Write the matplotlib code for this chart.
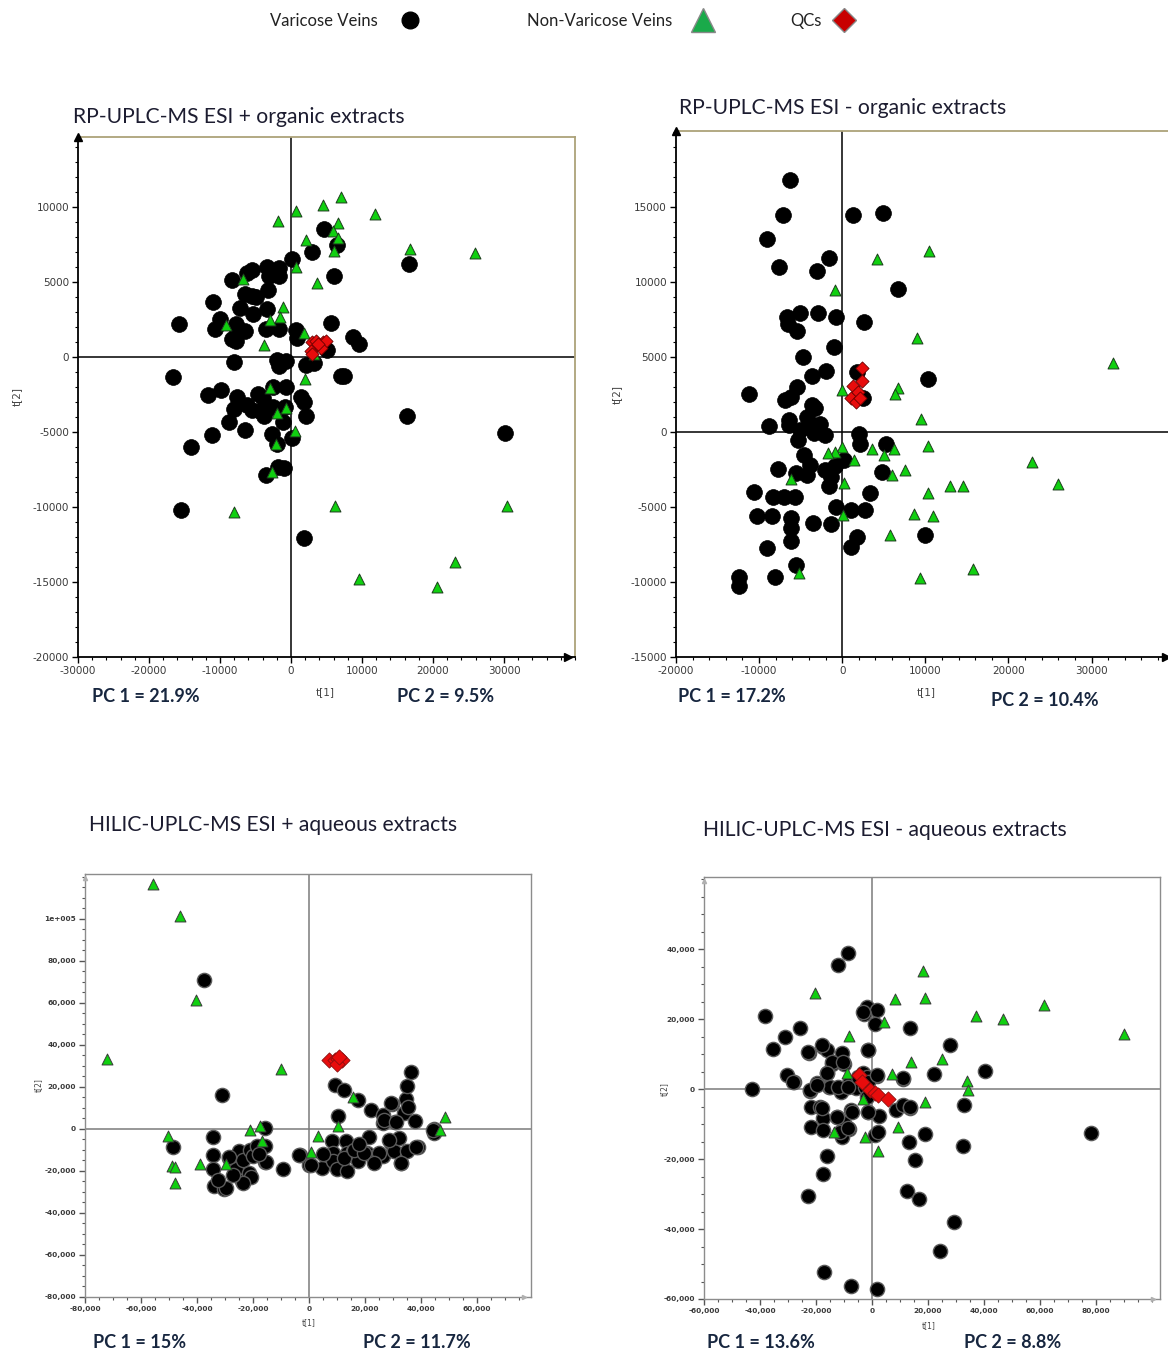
import numpy as np
import matplotlib
matplotlib.use("Agg")
import matplotlib.pyplot as plt
from matplotlib.lines import Line2D
from matplotlib.ticker import MultipleLocator, FuncFormatter, FixedLocator

plt.rcParams['axes.unicode_minus'] = False

W, H = 1168, 1352

# ---- score values (t[1], t[2]) per panel and sample group ----
rp_pos_vv = np.array([
    (4600, 8540), (3020, 6980), (6510, 7450), (160, 6510), (6085, 5420), (16670, 6190), (5660, 2250),
    (8730, 1360), (9630, 870), (5130, 470), (3280, -400), (2060, -500), (6980, -1240), (7510, -1240),
    (16350, -3960), (30100, -5070), (1850, -12080),
    (-3440, 5990), (-1640, 5920), (-3120, 5420), (-1640, 5420), (-5450, 5790), (-6240, 5620), (-8360, 5120),
    (-3170, 4460), (-6510, 4210), (-5450, 4080), (-11000, 3640), (-7250, 3290), (-3330, 3220), (-5290, 2900),
    (-10050, 2520), (-15770, 2200), (-10740, 1900), (-7720, 2200), (-7560, 1710), (-6510, 1710), (-3490, 1900),
    (-1640, 1900), (740, 1780), (790, 1290), (-8250, 1210), (-7720, 1040), (-7980, -320), (-2010, -200),
    (-1750, -570), (-690, -270), (-16560, -1360), (-9790, -2180), (-11690, -2500), (-7670, -2650),
    (-2540, -1980), (-690, -1980), (1430, -2670), (1850, -3000), (-4660, -2480), (-3970, -2750),
    (-6240, -3170), (-7980, -3490), (-5450, -3540), (-3860, -3910), (-790, -3340), (2060, -3910),
    (-8780, -4360), (-1110, -4360), (-6510, -4850), (-11110, -5220), (-2700, -5150), (210, -5400),
    (-2010, -5770), (-14020, -6010), (-3540, -7870), (-1900, -7300), (-950, -7430), (-15450, -10220),
    (-4300, -3600), (-2500, -3300), (-4900, 4000),
])
rp_pos_nv = np.array([
    (7000, 10700), (4440, 10150), (690, 9750), (-1800, 9080), (11800, 9550), (6560, 8960), (5870, 8390),
    (6610, 7920), (2170, 7800), (6090, 7100), (16770, 7230), (25980, 6960), (740, 5970), (3600, 4930),
    (-6770, 5170), (-1110, 3340), (-1480, 2700), (-2910, 2500), (-9150, 2130), (-3760, 820), (3280, 170),
    (1830, 1600), (1960, -1490), (-2960, -2080), (-740, -3420), (-1960, -3760), (630, -4900),
    (-2120, -5790), (-2700, -7650), (-8040, -10300), (6240, -9930), (30420, -9930), (9520, -14800),
    (23070, -13690), (20530, -15300),
])
rp_pos_qc = np.array([
    (2910, 970), (3540, 1040), (4500, 970), (4920, 1040), (2800, 420), (3020, 170), (4180, 620), (3810, 870),
])

rp_neg_vv = np.array([
    (-6270, 16830), (-7070, 14450), (1330, 14450), (4930, 14600), (-9020, 12890), (-7640, 11030),
    (-3070, 10750), (-1600, 11630), (6710, 9520), (-6620, 7640), (-5020, 7940), (-2930, 7940), (-710, 7640),
    (2670, 7360), (-6490, 7190), (-5470, 6730), (-930, 5700), (-4710, 4970), (-1960, 4100), (-3640, 3720),
    (10270, 3520), (-5470, 2990), (-11240, 2540), (-6930, 2160), (-6130, 2340), (-3640, 1830), (-3290, 1580),
    (1820, 3970), (2490, 2290), (-8800, 380), (-6400, 780), (-6400, 480), (-3910, 530), (-2710, 530),
    (-4270, 1030), (-5020, 150), (-3380, -50), (-2040, -230), (-5290, -530), (1960, -130), (2090, -780),
    (5290, -830), (-4580, -1560), (-3820, -2190), (-7730, -2460), (-5600, -2740), (-4270, -2860),
    (-2040, -2540), (-1380, -2990), (-840, -2240), (180, -1860), (-1600, -3620), (4760, -2690),
    (-10620, -3990), (-8360, -4300), (-7020, -4300), (-5730, -4300), (3290, -4050), (-710, -5000),
    (1070, -5200), (2760, -5200), (-10220, -5630), (-8400, -5630), (-6220, -5750), (-6220, -6380),
    (-3560, -6080), (-1290, -6130), (-6220, -7260), (1820, -7010), (1110, -7640), (10000, -6880),
    (-9110, -7760), (-5510, -8890), (-8040, -9650), (-12400, -9650), (-12400, -10280),
])
rp_neg_nv = np.array([
    (10400, 12040), (4180, 11510), (-840, 9500), (8980, 6260), (32620, 4620), (6760, 2910), (6360, 2540),
    (0, 2790), (9420, 850), (10270, -930), (3640, -1110), (6220, -1110), (-40, -1030), (-840, -1360),
    (-1690, -1410), (1420, -1860), (5020, -1560), (7600, -2540), (6000, -2860), (-6180, -3120), (180, -3420),
    (22840, -1990), (25960, -3490), (12980, -3620), (14580, -3620), (10270, -4050), (8620, -5450),
    (10930, -5630), (90, -5500), (5780, -6880), (15780, -9150), (9330, -9720), (-5240, -9400),
])
rp_neg_qc = np.array([
    (2400, 4270), (2400, 3420), (1330, 3090), (1070, 2290), (1600, 1990), (1870, 2660), (2130, 2290),
])

hilic_pos_vv = np.array([
    (-37370, 70830), (-30950, 16280), (-48670, -8540), (-34280, -3950), (-34280, -12170), (-34280, -19290),
    (-32480, -25300), (-34030, -27200), (-30180, -28770), (-28640, -13750), (-26070, -19290),
    (-25040, -10590), (-23500, -14550), (-24010, -24820), (-21570, -20870), (-20930, -9800),
    (-20160, -12650), (-18620, -8220), (-15540, 320), (-15540, -7910), (-15540, -15810), (-9370, -19290),
    (-3210, -12170), (0, -16920), (4490, -18500), (9250, 21030), (12460, 18660), (17600, 13910),
    (22090, 9170), (26580, 6800), (26320, 2850), (29790, 11860), (30820, 3160), (34030, 7590),
    (34670, 14230), (34930, 20240), (36600, 27350), (37880, 3640), (10270, 6320), (8350, -5850),
    (8600, -11380), (8600, -15340), (9890, -19290), (13100, -5850), (13740, -11380), (13740, -20080),
    (15670, -10280), (17600, -15340), (20800, -11380), (21450, -3950), (23370, -13440), (26580, -12960),
    (29150, -6640), (30440, -10590), (31980, -4270), (33000, -16130), (34930, -10590), (38780, -8700),
    (44560, -1900), (44560, 0), (24910, -11380), (12460, -13750), (-20710, -22700), (-23690, -25860),
    (-29640, -28240), (-28450, -13190), (-15360, -15560), (-3460, -12380), (710, -17140), (16190, -10000),
    (19750, -11590), (23330, -16350), (28690, -5240), (32860, -16350), (38210, -8410), (35240, 10630),
    (29290, 12220), (26900, 4290), (31070, 3490), (44170, -480), (-32620, -24290), (-27000, -22000),
    (-18000, -12000), (5000, -12000), (18000, -7000),
])
hilic_pos_nv = np.array([
    (-55600, 116680), (-46230, 101500), (-40190, 61340), (-72290, 33360), (-10020, 28620), (15670, 15020),
    (48410, 5690), (46870, -320), (10530, 1260), (3210, -3160), (640, -10750), (-20930, -320),
    (-17340, 1260), (-16690, -5530), (-50470, -3160), (-48930, -17710), (-47900, -18020), (-47900, -25610),
    (-38910, -16440), (-29660, -16440),
])
hilic_pos_qc = np.array([
    (7320, 32880), (9250, 32880), (10530, 33200), (11810, 32880), (10000, 30990), (10800, 34470),
])

hilic_neg_vv = np.array([
    (-8710, 38900), (-12190, 35480), (-38180, 20780), (-25870, 17550), (-31090, 14900), (-35450, 11380),
    (-22390, 10340), (-17410, 12050), (-16170, 11100), (-10820, 10340), (-14300, 7300), (-9950, 7300),
    (-1870, 23430), (1870, 22480), (-2740, 21540), (1240, 18500), (-1490, 11100), (13430, 17550),
    (27990, 12710), (22140, 4270), (40420, 5220), (10950, 2850), (-30470, 3980), (-27740, 2090),
    (-42910, 0), (-22010, -470), (-19530, 1610), (-16170, 4460), (-15170, 470), (-11190, -760),
    (-8080, 1610), (-5600, 190), (-3110, 4460), (-1870, 3510), (1870, 3700), (-2490, 660),
    (-21770, -5030), (-18660, -5030), (-17410, -8350), (-21770, -10720), (-17410, -11670),
    (-12440, -7870), (-7460, -5980), (-9950, -9770), (-8080, -11480), (-10820, -13570), (-1490, -6450),
    (2490, -7590), (8710, -5980), (11190, -4550), (13430, -5310), (1240, -13090), (13060, -14990),
    (18910, -12900), (15300, -20210), (-15920, -19260), (-17660, -24190), (-23010, -30640),
    (12440, -29220), (16790, -31310), (29480, -38040), (32960, -4550), (32590, -16410), (24250, -46300),
    (78110, -12430), (-17160, -52270), (-7340, -56260), (1870, -57020),
    (-14400, 7800), (-10240, 7800), (-16190, 4480), (-15000, 660), (-12020, 660), (-8450, 660),
    (-4880, 3520), (-1310, 2090), (1670, 4000), (-1900, -2190), (-1310, -6480), (2260, -12190),
    (-12620, -7910), (-11430, -12190), (-8450, -11240), (-7260, -6480), (-17980, -5520), (-22140, -290),
    (11190, 3050), (13570, -5050), (-3100, 22090), (-1310, 11140), (-28100, 2090), (-22740, 10660),
    (-17980, 12570), (-19760, 1140),
])
hilic_neg_nv = np.array([
    (18160, 33870), (18910, 26000), (8210, 25620), (-20270, 27420), (61570, 23910), (37060, 20870),
    (46640, 20110), (90170, 15650), (4230, 19160), (-8080, 15180), (14050, 7590), (25120, 8540),
    (7210, 4270), (-8960, 4650), (33960, 2280), (34450, -280), (18910, -3790), (-3110, -2750),
    (9330, -10720), (-13430, -12330), (-2490, -13760), (2110, -17840),
])
hilic_neg_qc = np.array([
    (-4500, 4000), (-3500, 2000), (-710, -290), (1070, -1240), (2260, -1710), (5830, -2860),
])

titles = ["RP-UPLC-MS ESI + organic extracts", "RP-UPLC-MS ESI - organic extracts",
          "HILIC-UPLC-MS ESI + aqueous extracts", "HILIC-UPLC-MS ESI - aqueous extracts"]
pc1_labels = ["PC 1 = 21.9%", "PC 1 = 17.2%", "PC 1 = 15%", "PC 1 = 13.6%"]
pc2_labels = ["PC 2 = 9.5%", "PC 2 = 10.4%", "PC 2 = 11.7%", "PC 2 = 8.8%"]

GREEN = '#10d010'
RED = '#e80c0c'
OLIVE = '#aca27a'
NAVY = '#17263f'


def fx(x):
    return x / W


def fy(y):
    return 1 - y / H


def plain_fmt(v, pos):
    return '%d' % v


def comma_fmt(v, pos):
    if abs(v - 100000) < 1:
        return '1e+005'
    return '{:,.0f}'.format(v)


fig = plt.figure(figsize=(W / 100, H / 100), dpi=100)

# (left, top, right, bottom) in pixels
boxes = [(78, 137, 575, 657), (676, 131, 1168, 657), (85, 874, 531, 1297), (704, 877, 1160, 1299)]
limits = [((-30000, 40000), (-20000, 14670)),
          ((-20000, 39200), (-15000, 20070)),
          ((-80000, 79300), (-80000, 121400)),
          ((-60000, 102900), (-60000, 60600))]
# labelled tick ranges: (x first, x last, x step, x minor, y first, y last, y step, y minor)
ticks = [(-30000, 30000, 10000, 2000, -20000, 10000, 5000, 1000),
         (-20000, 30000, 10000, 2000, -15000, 15000, 5000, 1000),
         (-80000, 60000, 20000, 5000, -80000, 100000, 20000, 5000),
         (-60000, 80000, 20000, 5000, -60000, 40000, 20000, 5000)]
data = [(rp_pos_vv, rp_pos_nv, rp_pos_qc), (rp_neg_vv, rp_neg_nv, rp_neg_qc),
        (hilic_pos_vv, hilic_pos_nv, hilic_pos_qc), (hilic_neg_vv, hilic_neg_nv, hilic_neg_qc)]
title_pos = [(73, 117), (679, 108), (89, 825), (703, 830)]
pc_pos = [((92, 697), (397, 697)), ((678, 697), (991, 700)),
          ((93, 1343), (363, 1343)), ((707, 1342), (964, 1342))]
tlabel_pos = [((325, 692), (17, 396)), ((926, 692), (617, 395)),
              ((309, 1323), (38, 1085)), ((929, 1326), (664, 1089))]

for i in range(4):
    l, t, r, b = boxes[i]
    ax = fig.add_axes([fx(l), fy(b), (r - l) / W, (b - t) / H])
    vv, nv, qc = data[i]
    rp = i < 2
    if rp:
        ax.scatter(vv[:, 0], vv[:, 1], s=130, c='black', edgecolors='black', linewidths=0.5, zorder=3)
        ax.scatter(nv[:, 0], nv[:, 1], s=62, marker='^', c=GREEN, edgecolors='#1d3d1d', linewidths=0.7, zorder=4)
        ax.scatter(qc[:, 0], qc[:, 1], s=45, marker='D', c=RED, edgecolors='#6a0000', linewidths=0.6, zorder=5)
        line_col = 'black'
    else:
        ax.scatter(vv[:, 0], vv[:, 1], s=105, c='black', edgecolors='#5a5a5a', linewidths=1.0, zorder=3)
        ax.scatter(nv[:, 0], nv[:, 1], s=62, marker='^', c=GREEN, edgecolors='#3a3a3a', linewidths=0.7, zorder=4)
        ax.scatter(qc[:, 0], qc[:, 1], s=60, marker='D', c=RED, edgecolors='#8a1010', linewidths=0.6, zorder=5)
        line_col = '#7a7a7a'
    ax.axhline(0, color=line_col, lw=1.1, zorder=2)
    ax.axvline(0, color=line_col, lw=1.1, zorder=2)
    ax.set_xlim(*limits[i][0])
    ax.set_ylim(*limits[i][1])

    x0, x1, xs, xm, y0, y1, ys, ym = ticks[i]
    ax.xaxis.set_major_locator(FixedLocator(np.arange(x0, x1 + 1, xs)))
    ax.xaxis.set_minor_locator(MultipleLocator(xm))
    ax.yaxis.set_major_locator(FixedLocator(np.arange(y0, y1 + 1, ys)))
    ax.yaxis.set_minor_locator(MultipleLocator(ym))

    if rp:
        fmt = FuncFormatter(plain_fmt)
        lab_size = 7.5
        for side in ['left', 'bottom']:
            ax.spines[side].set_color('black')
            ax.spines[side].set_linewidth(1.3)
        ax.spines['top'].set_color(OLIVE)
        ax.spines['top'].set_linewidth(1.3)
        if i == 0:
            ax.spines['right'].set_color(OLIVE)
            ax.spines['right'].set_linewidth(1.3)
        else:
            ax.spines['right'].set_visible(False)
        ax.plot(0, 1, '^', color='black', ms=6, transform=ax.transAxes, clip_on=False, zorder=6)
        ax.plot(0.985 if i == 0 else 0.995, 0, '>', color='black', ms=6,
                transform=ax.transAxes, clip_on=False, zorder=6)
        tick_col = 'black'
    else:
        fmt = FuncFormatter(comma_fmt)
        lab_size = 5.3
        for side in ax.spines:
            ax.spines[side].set_color('#8c8c8c')
            ax.spines[side].set_linewidth(1.0)
        ax.plot(0, 0.99, '^', color='#b0b0b0', ms=3, transform=ax.transAxes, clip_on=False, zorder=6)
        ax.plot(0.985, 0, '>', color='#b0b0b0', ms=3, transform=ax.transAxes, clip_on=False, zorder=6)
        tick_col = '#555555'

    ax.xaxis.set_major_formatter(fmt)
    ax.yaxis.set_major_formatter(fmt)
    ax.tick_params(which='major', direction='out', length=4, width=1, colors=tick_col,
                   labelsize=lab_size, labelcolor='#3a3a3a', pad=2.5)
    ax.tick_params(which='minor', direction='out', length=2.5, width=0.8, colors=tick_col)
    ax.tick_params(top=False, right=False, which='both')
    if not rp:
        for lab in ax.get_xticklabels() + ax.get_yticklabels():
            lab.set_fontweight('bold')

    tx, ty = title_pos[i]
    fig.text(fx(tx), fy(ty), titles[i], family='Lato', fontsize=15.2, color='#1c1c30',
             ha='left', va='center')
    (p1x, p1y), (p2x, p2y) = pc_pos[i]
    fig.text(fx(p1x), fy(p1y), pc1_labels[i], family='Lato', fontweight='bold', fontsize=13,
             color=NAVY, ha='left', va='center')
    fig.text(fx(p2x), fy(p2y), pc2_labels[i], family='Lato', fontweight='bold', fontsize=13,
             color=NAVY, ha='left', va='center')
    (t1x, t1y), (t2x, t2y) = tlabel_pos[i]
    small = 7.5 if rp else 5.5
    fig.text(fx(t1x), fy(t1y), 't[1]', fontsize=small, color='#444444', ha='center', va='center')
    fig.text(fx(t2x), fy(t2y), 't[2]', fontsize=small, color='#444444', ha='center', va='center',
             rotation=90)

# group legend across the top
legend_items = [
    ("Varicose Veins", Line2D([], [], ls='none', marker='o', ms=12, mfc='black', mec='black'), 270, 1.35),
    ("Non-Varicose Veins", Line2D([], [], ls='none', marker='^', ms=17, mfc='#1aaa4a', mec='#888888'), 527, 1.25),
    ("QCs", Line2D([], [], ls='none', marker='D', ms=12, mfc='#c80000', mec='#888888'), 790, 0.75),
]
for label, handle, x0, pad in legend_items:
    leg = fig.legend([handle], [label], loc='center left', bbox_to_anchor=(fx(x0), fy(21)),
                     frameon=False, markerfirst=False, borderpad=0, borderaxespad=0,
                     handlelength=1.2, handletextpad=pad,
                     prop={'family': 'Lato', 'size': 12})
    for txt in leg.get_texts():
        txt.set_color('#222222')

fig.savefig('out.png', dpi=100, facecolor='white')
